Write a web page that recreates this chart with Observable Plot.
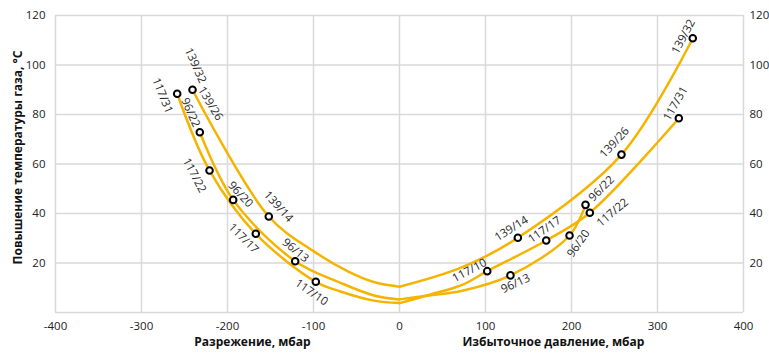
<!DOCTYPE html>
<html>
<head>
<meta charset="utf-8">
<script src="https://cdn.jsdelivr.net/npm/d3@7"></script>
<script src="https://cdn.jsdelivr.net/npm/@observablehq/plot@0.6"></script>
<style>
  body { margin: 0; background: #fff; }
  #chart svg { display: block; }
</style>
</head>
<body>
<div id="chart"></div>
<script>
// Axis ticks
const xTicks = [-400, -300, -200, -100, 0, 100, 200, 300, 400];
const yTicks = [20, 40, 60, 80, 100, 120];

// Measured points (labelled)
const pointSeries = ["117","139","96","117","96","139","117","96","117",
                     "117","96","139","117","96","96","117","139","117","139"];
const pointX = [-258.5, -240.7, -232.2, -220.9, -193.4, -152, -167.1, -121.3, -97.3,
                102, 129, 137.6, 170.6, 197.7, 216.3, 221.3, 258.1, 324.8, 341];
const pointY = [88.4, 90.0, 72.8, 57.4, 45.5, 38.8, 31.8, 20.7, 12.4,
                16.7, 15.0, 30.2, 29.1, 31.1, 43.5, 40.3, 63.8, 78.5, 110.8];

// Curves (each series, through 0)
const curve139X = [-240.7, -152, -100, -60, -30, 0, 73, 137.6, 258.1, 341];
const curve139Y = [90, 38.8, 24.8, 16.6, 12.3, 10.4, 18.3, 30.2, 63.8, 110.8];
const curve117X = [-258.5, -220.9, -167.1, -97.3, -68.6, -30, 0, 34, 73, 102, 170.6, 221.3, 324.8];
const curve117Y = [88.4, 57.4, 31.8, 12.4, 8.5, 4.8, 3.8, 7.1, 11.2, 16.7, 29.1, 40.3, 78.5];
const curve96X = [-232.2, -193.4, -121.3, -68.6, -29.8, 0, 34, 73, 129, 197.7, 216.3];
const curve96Y = [72.8, 45.5, 20.7, 12.0, 6.9, 5.3, 6.9, 8.8, 15.0, 31.1, 43.5];

// Point labels
const labelText = ["117/31","139/32","139/26","96/22","117/22","96/20","139/14","117/17","96/13","117/10",
                   "117/10","96/13","139/14","117/17","96/20","96/22","117/22","139/26","117/31","139/32"];
const labelX = [-275.6, -237.2, -219.8, -243, -238.4, -184.9, -140.7, -181.4, -120.9, -102.3,
                81.4, 134.9, 130.2, 168.6, 208.1, 234.9, 247.7, 250, 320.9, 330.2];
const labelY = [87.7, 99.8, 84.4, 80.8, 55.4, 47.7, 42.8, 29.9, 25.1, 8.1,
                17.0, 11.7, 33.9, 33.5, 27.9, 50.1, 40.4, 68.7, 84.4, 111.5];
const labelAngle = [68, 66, 59, 66, 62, 47, 48, 45, 40, 35,
                    -28, -25, -32, -35, -55, -45, -40, -47, -60, -62];

// Axis titles
const xTitleLeft = "Разрежение, мбар";
const xTitleRight = "Избыточное давление, мбар";
const yTitle = "Повышение температуры газа, °С";

// Build tables
const curves = [["139", curve139X, curve139Y], ["117", curve117X, curve117Y], ["96", curve96X, curve96Y]];
const lineRows = [];
for (const [s, xs, ys] of curves) {
  xs.forEach((x, i) => {
    if (x <= 0) lineRows.push({key: s + "L", x, y: ys[i]});
  });
  xs.forEach((x, i) => {
    if (x >= 0) lineRows.push({key: s + "R", x, y: ys[i]});
  });
}
const pointRows = pointX.map((x, i) => ({x, y: pointY[i], s: pointSeries[i]}));
const labelRows = labelText.map((t, i) => ({t, x: labelX[i], y: labelY[i], a: labelAngle[i]}));

const gridColor = "#d9d9d9";
const lineColor = "#F5B400";
const fmt = d => String(d);

const plot = Plot.plot({
  width: 769,
  height: 353,
  marginLeft: 55,
  marginRight: 26,
  marginTop: 15,
  marginBottom: 41,
  x: {domain: [-400, 400]},
  y: {domain: [0, 120]},
  style: {fontFamily: "'Open Sans', sans-serif", fontSize: "11.5px", color: "#222", background: "#fff"},
  marks: [
    Plot.gridX(xTicks, {stroke: gridColor, strokeOpacity: 1, strokeWidth: 1.5}),
    Plot.gridY([0, ...yTicks], {stroke: gridColor, strokeOpacity: 1, strokeWidth: 1.5}),
    Plot.axisX(xTicks, {tickSize: 0, tickPadding: 9, label: null, fontSize: 11.5, tickFormat: fmt}),
    Plot.axisY(yTicks, {anchor: "left", tickSize: 0, tickPadding: 10, label: null, fontSize: 11.5, tickFormat: fmt}),
    Plot.axisY(yTicks, {anchor: "right", tickSize: 0, tickPadding: 6, label: null, fontSize: 11.5, tickFormat: fmt}),
    Plot.line(lineRows, {x: "x", y: "y", z: "key", curve: "catmull-rom", stroke: lineColor, strokeWidth: 2.5}),
    Plot.dot(pointRows, {x: "x", y: "y", r: 3.3, fill: "white", stroke: "black", strokeWidth: 2}),
    Plot.text(labelRows, {x: "x", y: "y", text: "t", rotate: "a", fontSize: 11.5, fill: "#2a2a2a"}),
    Plot.text([xTitleLeft], {x: -171, frameAnchor: "bottom", dy: 33, fontWeight: "bold", fontSize: 12, fill: "#111"}),
    Plot.text([xTitleRight], {x: 179, frameAnchor: "bottom", dy: 33, fontWeight: "bold", fontSize: 12, fill: "#111"}),
    Plot.text([yTitle], {y: 62.6, frameAnchor: "left", textAnchor: "middle", dx: -37, rotate: -90, fontWeight: "bold", fontSize: 12, fill: "#111"})
  ]
});
document.getElementById("chart").appendChild(plot);
</script>
</body>
</html>
